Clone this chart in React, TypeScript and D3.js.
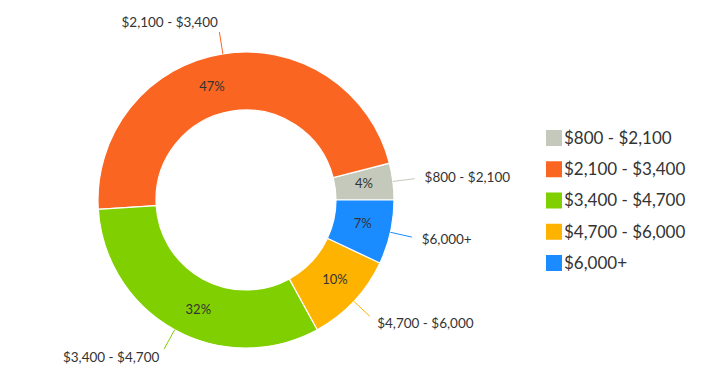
import React from 'react'
import * as d3 from 'd3'

const categories = ['$800 - $2,100', '$2,100 - $3,400', '$3,400 - $4,700', '$4,700 - $6,000', '$6,000+']
const shares = [4, 47, 32, 10, 7]
const colors = ['#c4c9bb', '#fa6522', '#80cf00', '#fdb300', '#1a8cff']

const width = 717
const height = 374

export default function App() {
  const cx = 246
  const cy = 200
  const outer = 148
  const inner = 90

  const data = categories.map((name, i) => ({name, value: shares[i], color: colors[i]}))

  // slices run counter-clockwise starting at 3 o'clock
  const pie = d3
    .pie<any>()
    .sort(null)
    .value((d) => d.value)
    .startAngle(Math.PI / 2)
    .endAngle(Math.PI / 2 - 2 * Math.PI)
  const arcs = pie(data)

  const arc = d3.arc<any>().innerRadius(inner).outerRadius(outer)

  const point = (a: number, r: number) => [Math.sin(a) * r, -Math.cos(a) * r]

  const legendY = d3.scalePoint<string>().domain(categories).range([138, 263])

  return (
    <svg
      width={width}
      height={height}
      style={{position: 'absolute', left: 0, top: 0, background: '#fff'}}
      fontFamily="Lato, 'Open Sans', sans-serif"
    >
      <g transform={`translate(${cx},${cy})`}>
        {arcs.map((d, i) => (
          <path key={i} d={arc(d) as string} fill={d.data.color} stroke="#fff" strokeWidth={1.2} />
        ))}
        {arcs.map((d, i) => {
          const mid = (d.startAngle + d.endAngle) / 2
          const [x1, y1] = point(mid, outer)
          const [x2, y2] = point(mid, 170)
          const [tx, ty] = point(mid, 180)
          return (
            <g key={'l' + i}>
              <line x1={x1} y1={y1} x2={x2} y2={y2} stroke={d.data.color} strokeWidth={1} />
              <text
                x={tx}
                y={ty}
                dy="0.35em"
                textAnchor={tx >= 0 ? 'start' : 'end'}
                fontSize={13.5}
                fill="#333"
              >
                {d.data.name}
              </text>
            </g>
          )
        })}
        {arcs.map((d, i) => {
          // inner labels sit a little past the middle of each slice
          const a = (d.startAngle + d.endAngle) / 2 + 0.045 * (d.endAngle - d.startAngle)
          const [x, y] = point(a, 119)
          return (
            <text key={'p' + i} x={x} y={y} dy="0.35em" textAnchor="middle" fontSize={13} fill="#333">
              {d.data.value}%
            </text>
          )
        })}
      </g>
      <g>
        {data.map((d) => (
          <g key={d.name} transform={`translate(546,${legendY(d.name)})`}>
            <rect x={0} y={-8} width={16} height={16} fill={d.color} />
            <text x={18} y={0} dy="0.35em" fontSize={17} fill="#333">
              {d.name}
            </text>
          </g>
        ))}
      </g>
    </svg>
  )
}
